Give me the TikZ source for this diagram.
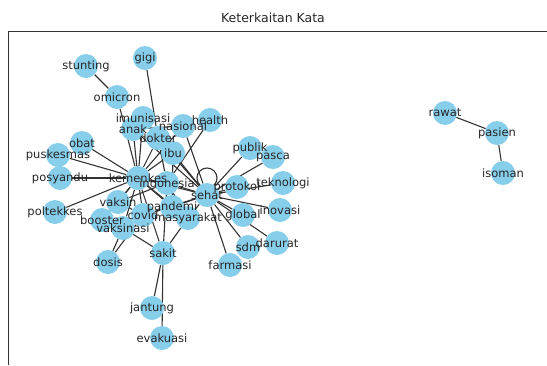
\documentclass[tikz,border=0pt]{standalone}
\usepackage{fontspec}
\setmainfont{DejaVu Sans}
\usepackage{tikz}
\usetikzlibrary{backgrounds}
\definecolor{skyblue}{HTML}{87CEEB}
\tikzset{
  word/.style={circle, fill=skyblue, minimum size=24pt, inner sep=0pt},
  wordtext/.style={font=\fontsize{11.5}{12}\selectfont, text=black!85, inner sep=0pt},
  link/.style={draw=black!80, line width=1.1pt}
}

\begin{document}
\begin{tikzpicture}[x=1pt, y=-1pt]
	\useasboundingbox (0,0) rectangle (547,365);
	% axes frame and title
	\draw[black!80, line width=0.9pt] (8,365) -- (8,31) -- (547,31);
	\node[font=\fontsize{12.5}{14}\selectfont, text=black!85] (title) at (273,18) {Keterkaitan Kata};
	% words
	\foreach \n/\x/\y in {gigi/145/58, stunting/86/66, omicron/117/97, imunisasi/143/118,
	    anak/133/129, nasional/183/126, health/210/120, dokter/158/138, ibu/173/153,
	    obat/82/143, puskesmas/58/155, posyandu/60/178, kemenkes/138/178,
	    indonesia/167/183, sehat/207/195, publik/250/148, pasca/273/157,
	    protokol/237/187, teknologi/283/183, vaksin/118/202, poltekkes/55/212,
	    pandemi/172/207, covid/143/215, booster/102/220, vaksinasi/123/228,
	    masyarakat/188/218, global/243/215, inovasi/280/210, darurat/277/243,
	    sdm/248/247, sakit/163/253, dosis/108/262, farmasi/230/265,
	    jantung/152/308, evakuasi/162/338, rawat/445/113, pasien/497/133, isoman/503/173}
	    \node[word] (\n) at (\x,\y) {};
	\begin{pgfonlayer}{background}
	    \foreach \a/\b in {stunting/omicron, omicron/kemenkes, gigi/dokter,
	        kemenkes/puskesmas, kemenkes/obat, kemenkes/posyandu, kemenkes/poltekkes,
	        kemenkes/anak, kemenkes/imunisasi, kemenkes/dokter, kemenkes/ibu,
	        kemenkes/indonesia, kemenkes/vaksin, kemenkes/booster, kemenkes/vaksinasi,
	        kemenkes/covid, kemenkes/pandemi, kemenkes/masyarakat, kemenkes/sehat,
	        kemenkes/sakit, kemenkes/nasional, anak/nasional, anak/sehat,
	        dokter/sehat, dokter/indonesia, ibu/sehat, ibu/pandemi, health/indonesia,
	        nasional/sehat, sehat/publik, sehat/pasca, sehat/protokol, sehat/teknologi,
	        sehat/inovasi, sehat/global, sehat/darurat, sehat/sdm, sehat/farmasi,
	        sehat/masyarakat, sehat/pandemi, sehat/indonesia, sehat/covid,
	        sakit/jantung, sakit/evakuasi, sakit/masyarakat, sakit/vaksinasi,
	        sakit/indonesia, dosis/vaksinasi, dosis/covid, vaksin/covid,
	        vaksinasi/covid, booster/vaksin, vaksin/indonesia, pandemi/covid,
	        pandemi/indonesia, masyarakat/indonesia, rawat/pasien, pasien/isoman}
	        \draw[link] (\a) -- (\b);
	    \draw[link] ([yshift=17pt]sehat.center) circle[radius=10pt];
	\end{pgfonlayer}
	% labels on top
	\foreach \n in {gigi, stunting, omicron, imunisasi, anak, nasional, health, dokter,
	    ibu, obat, puskesmas, posyandu, kemenkes, indonesia, sehat, publik, pasca,
	    protokol, teknologi, vaksin, poltekkes, pandemi, covid, booster, vaksinasi,
	    masyarakat, global, inovasi, darurat, sdm, sakit, dosis, farmasi, jantung,
	    evakuasi, rawat, pasien, isoman}
	    \node[wordtext] at (\n) {\n};
\end{tikzpicture}
\end{document}
